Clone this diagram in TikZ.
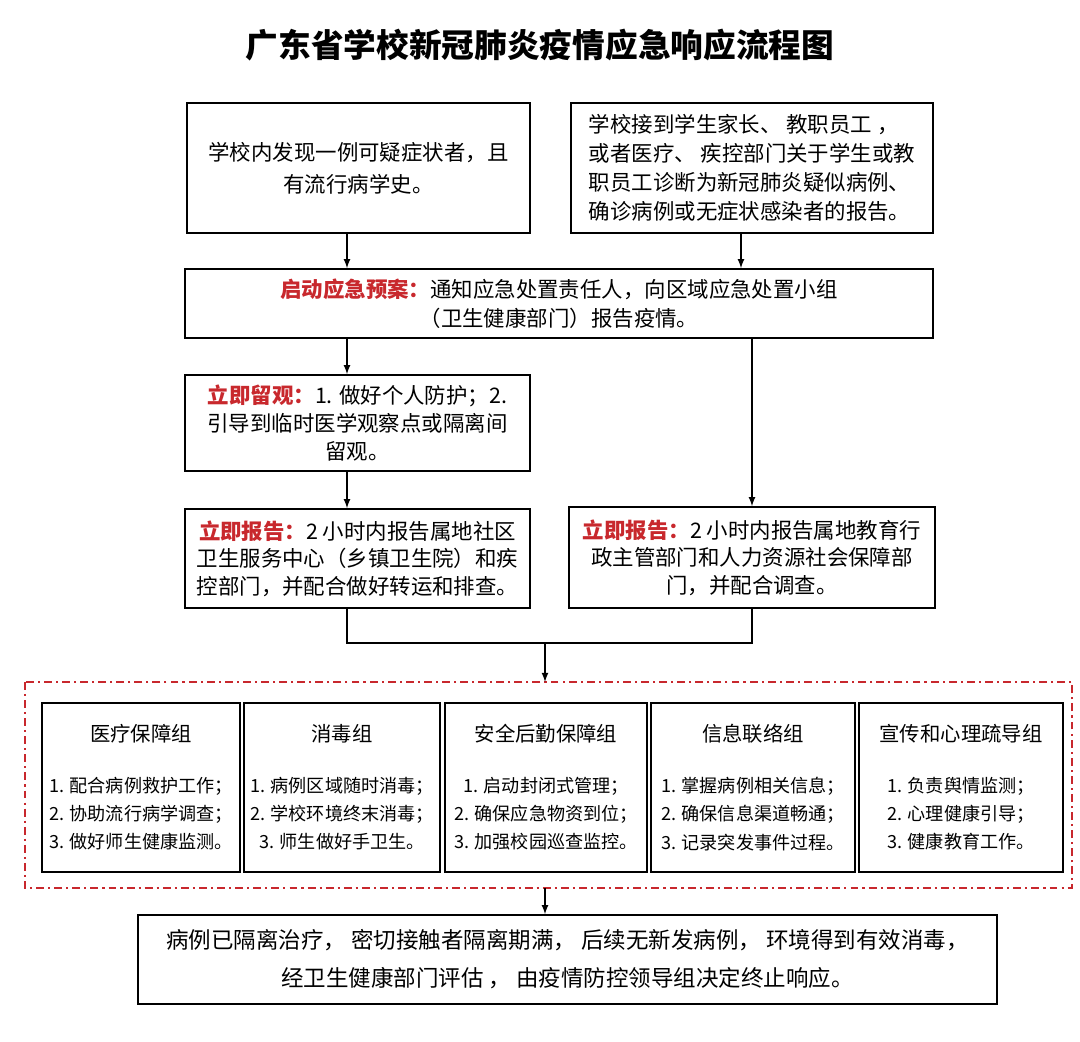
\documentclass[tikz,border=0pt]{standalone}
\usepackage{fontspec}
\setmainfont{Noto Sans CJK SC}
\usetikzlibrary{arrows,positioning}
\definecolor{alertred}{RGB}{200,40,45}

\begin{document}
\begin{tikzpicture}[x=0.02cm,y=-0.02cm,
box/.style={draw,line width=0.9pt,inner sep=0pt,font=\fontsize{12.2}{16.5}\selectfont},
group/.style={box,minimum height=3.38cm,align=center,font=\fontsize{10.3}{16}\selectfont},
flow/.style={-latex,line width=0.8pt},
link/.style={line width=0.8pt}]
\useasboundingbox (0,0) rectangle (1080,1042);
\newcommand{\red}[1]{{\bfseries\color{alertred}#1}}
\newcommand{\gtitle}[1]{{\fontsize{11.6}{16}\selectfont #1}\\[13pt]}

% title
\node[font=\bfseries\fontsize{18.6}{20}\selectfont] (title) at (540,45) {广东省学校新冠肺炎疫情应急响应流程图};

% top row
\node[box,minimum width=6.86cm,minimum height=2.6cm,align=center,
 font=\fontsize{12.2}{18.2}\selectfont] (found) at (358.5,168)
 {学校内发现一例可疑症状者，且\\有流行病学史。};
\node[box,minimum width=7.24cm,minimum height=2.6cm,align=left] (notice) at (752,168)
 {学校接到学生家长、\ 教职员工 ，\\或者医疗、\ 疾控部门关于学生或教\\职员工诊断为新冠肺炎疑似病例、\\确诊病例或无症状感染者的报告。};

% plan
\node[box,minimum width=14.96cm,minimum height=1.38cm,align=center] (plan) at (559,303.5)
 {\red{启动应急预案：}通知应急处置责任人，向区域应急处置小组\\（卫生健康部门）报告疫情。};

% left branch
\node[box,minimum width=6.9cm,minimum height=1.92cm,align=center,
 font=\fontsize{12.2}{16}\selectfont] (watch) at (357.5,423)
 {\red{立即留观：}1. 做好个人防护；2.\\引导到临时医学观察点或隔离间\\留观。};
\node[box,minimum width=6.9cm,minimum height=1.98cm,align=center,
 font=\fontsize{12.2}{15.7}\selectfont] (rephealth) at (357.5,558.5)
 {\red{立即报告：}2 小时内报告属地社区\\卫生服务中心（乡镇卫生院）和疾\\控部门，并配合做好转运和排查。};

% right branch
\node[box,minimum width=7.32cm,minimum height=2.02cm,align=center,
 font=\fontsize{12.2}{15.7}\selectfont] (repedu) at (752,557.5)
 {\red{立即报告：}2 小时内报告属地教育行\\政主管部门和人力资源社会保障部\\门，并配合调查。};

% working groups
\draw[alertred,line width=1.1pt,dash pattern=on 4.5pt off 2.3pt on 1.2pt off 2.3pt]
 (25,682) rectangle (1072,888);
\coordinate (grouptop) at (545,682);
\coordinate (groupbot) at (545,888);
\node[group,minimum width=3.96cm] (medical) at (141,787.5)
 {\gtitle{医疗保障组}1. 配合病例救护工作；\\2. 协助流行病学调查；\\3. 做好师生健康监测。};
\node[group,minimum width=3.92cm] (disinfect) at (342,787.5)
 {\gtitle{消毒组}1. 病例区域随时消毒；\\2. 学校环境终末消毒；\\3. 师生做好手卫生。};
\node[group,minimum width=4.04cm] (logistics) at (546,787.5)
 {\gtitle{安全后勤保障组}1. 启动封闭式管理；\\2. 确保应急物资到位；\\3. 加强校园巡查监控。};
\node[group,minimum width=4.08cm] (info) at (753,787.5)
 {\gtitle{信息联络组}1. 掌握病例相关信息；\\2. 确保信息渠道畅通；\\3. 记录突发事件过程。};
\node[group,minimum width=4.08cm] (publicity) at (961,787.5)
 {\gtitle{宣传和心理疏导组}1. 负责舆情监测；\\2. 心理健康引导；\\3. 健康教育工作。};

% end of response
\node[box,minimum width=17.18cm,minimum height=1.78cm,align=center,
 font=\fontsize{12.8}{21.6}\selectfont] (finish) at (567.5,959.5)
 {病例已隔离治疗，\ 密切接触者隔离期满，\ 后续无新发病例，\ 环境得到有效消毒，\\经卫生健康部门评估\ ，\ 由疫情防控领导组决定终止响应。};

% connectors
\coordinate (colL) at (347,0);
\coordinate (colR) at (741,0);
\coordinate (colE) at (752,0);
\coordinate (merge) at (545,643);
\draw[flow] (found.south -| colL) -- (plan.north -| colL);
\draw[flow] (notice.south -| colR) -- (plan.north -| colR);
\draw[flow] (plan.south -| colL) -- (watch.north -| colL);
\draw[flow] (plan.south -| colE) -- (repedu.north -| colE);
\draw[flow] (watch.south -| colL) -- (rephealth.north -| colL);
\draw[link] (rephealth.south -| colL) |- (merge) -| (repedu.south -| colE);
\draw[flow] (merge) -- (grouptop);
\draw[flow] (groupbot) -- (finish.north -| groupbot);
\end{tikzpicture}
\end{document}
